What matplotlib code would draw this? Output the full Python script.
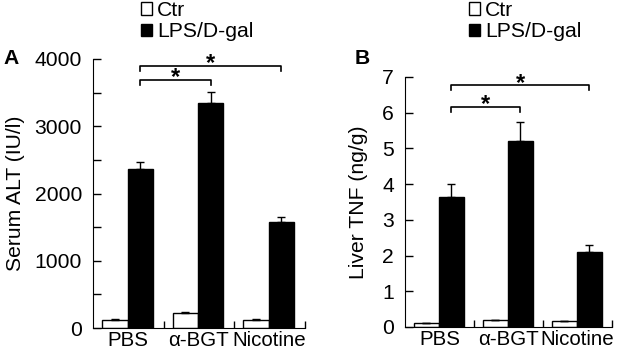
import numpy as np
import matplotlib.pyplot as plt
from matplotlib.patches import Patch

plt.rcParams['font.family'] = ['Liberation Sans', 'DejaVu Sans']

groups = ['PBS', 'α-BGT', 'Nicotine']

# panel A: serum ALT (IU/l)
alt_ctr = [125, 225, 120]
alt_ctr_err = [10, 8, 8]
alt_lps = [2360, 3340, 1570]
alt_lps_err = [105, 170, 75]

# panel B: liver TNF (ng/g)
tnf_ctr = [0.11, 0.20, 0.16]
tnf_ctr_err = [0.01, 0.01, 0.01]
tnf_lps = [3.64, 5.22, 2.10]
tnf_lps_err = [0.37, 0.51, 0.21]

FS = 15.2
W = 0.36

fig = plt.figure(figsize=(6.25, 3.53), dpi=100)
axA = fig.add_axes([93/625, 1-328/353, 211.5/625, 269/353])
axB = fig.add_axes([405/625, 1-327/353, 207/625, 250/353])


def panel(ax, ctr, ctr_err, lps, lps_err, ymax, major, minor, ylabel, lpad,
          brackets, drop):
    x = np.arange(len(groups))
    ax.bar(x + 0.13 + W/2, ctr, W, color='white', edgecolor='black', lw=1,
           yerr=[np.zeros(3), ctr_err], capsize=3, error_kw=dict(lw=1, capthick=1))
    ax.bar(x + 0.49 + W/2, lps, W, color='black', edgecolor='black', lw=1,
           yerr=[np.zeros(3), lps_err], capsize=3, error_kw=dict(lw=1, capthick=1))
    ax.set_xlim(0, 3)
    ax.set_ylim(0, ymax)
    for s in ['top', 'right']:
        ax.spines[s].set_visible(False)
    ax.set_xticks([1, 2, 3])
    ax.set_xticklabels([])
    ax.set_xticks(x + 0.5, minor=True)
    ax.set_xticklabels(groups, minor=True, fontsize=14.8)
    ax.tick_params(axis='x', which='major', direction='in', length=5, width=1)
    ax.tick_params(axis='x', which='minor', length=0, pad=2)
    ax.set_yticks(np.arange(0, ymax + 1e-9, major))
    if minor:
        ax.set_yticks(np.arange(0, ymax + 1e-9, minor), minor=True)
    ax.tick_params(axis='y', which='both', direction='in', length=6, width=1,
                   labelsize=FS, pad=8)
    ax.set_ylabel(ylabel, fontsize=FS, labelpad=lpad)
    bx = x + 0.49 + W/2
    for (i, j, yb) in brackets:
        ax.plot([bx[i], bx[i], bx[j], bx[j]], [yb - drop, yb, yb, yb - drop],
                color='black', lw=1.2, clip_on=False)
        ax.text((bx[i] + bx[j]) / 2, yb - drop*0.9, '*', ha='center', va='baseline',
                fontsize=17, fontweight='bold', clip_on=False)


panel(axA, alt_ctr, alt_ctr_err, alt_lps, alt_lps_err, 4000, 1000, 500,
      'Serum ALT (IU/l)', 7, [(0, 1, 3690), (0, 2, 3900)], 75)
panel(axB, tnf_ctr, tnf_ctr_err, tnf_lps, tnf_lps_err, 7, 1, None,
      'Liver TNF (ng/g)', 10, [(0, 1, 6.16), (0, 2, 6.77)], 0.14)

fig.text(11/625, 1-59/353, 'A', fontsize=FS, fontweight='bold', ha='center', va='center')
fig.text(362/625, 1-58/353, 'B', fontsize=FS, fontweight='bold', ha='center', va='center')

handles = [Patch(facecolor='white', edgecolor='black', lw=1),
           Patch(facecolor='black', edgecolor='black', lw=1)]
for lx, ly in [(141/625, 1-1/353), (469/625, 1-1/353)]:
    fig.legend(handles, ['Ctr', 'LPS/D-gal'], loc='upper left', bbox_to_anchor=(lx, ly),
               frameon=False, fontsize=FS, handlelength=0.5, handleheight=0.5,
               handletextpad=0.25, labelspacing=0.1, borderpad=0, borderaxespad=0)

fig.savefig('out.png', dpi=100)
